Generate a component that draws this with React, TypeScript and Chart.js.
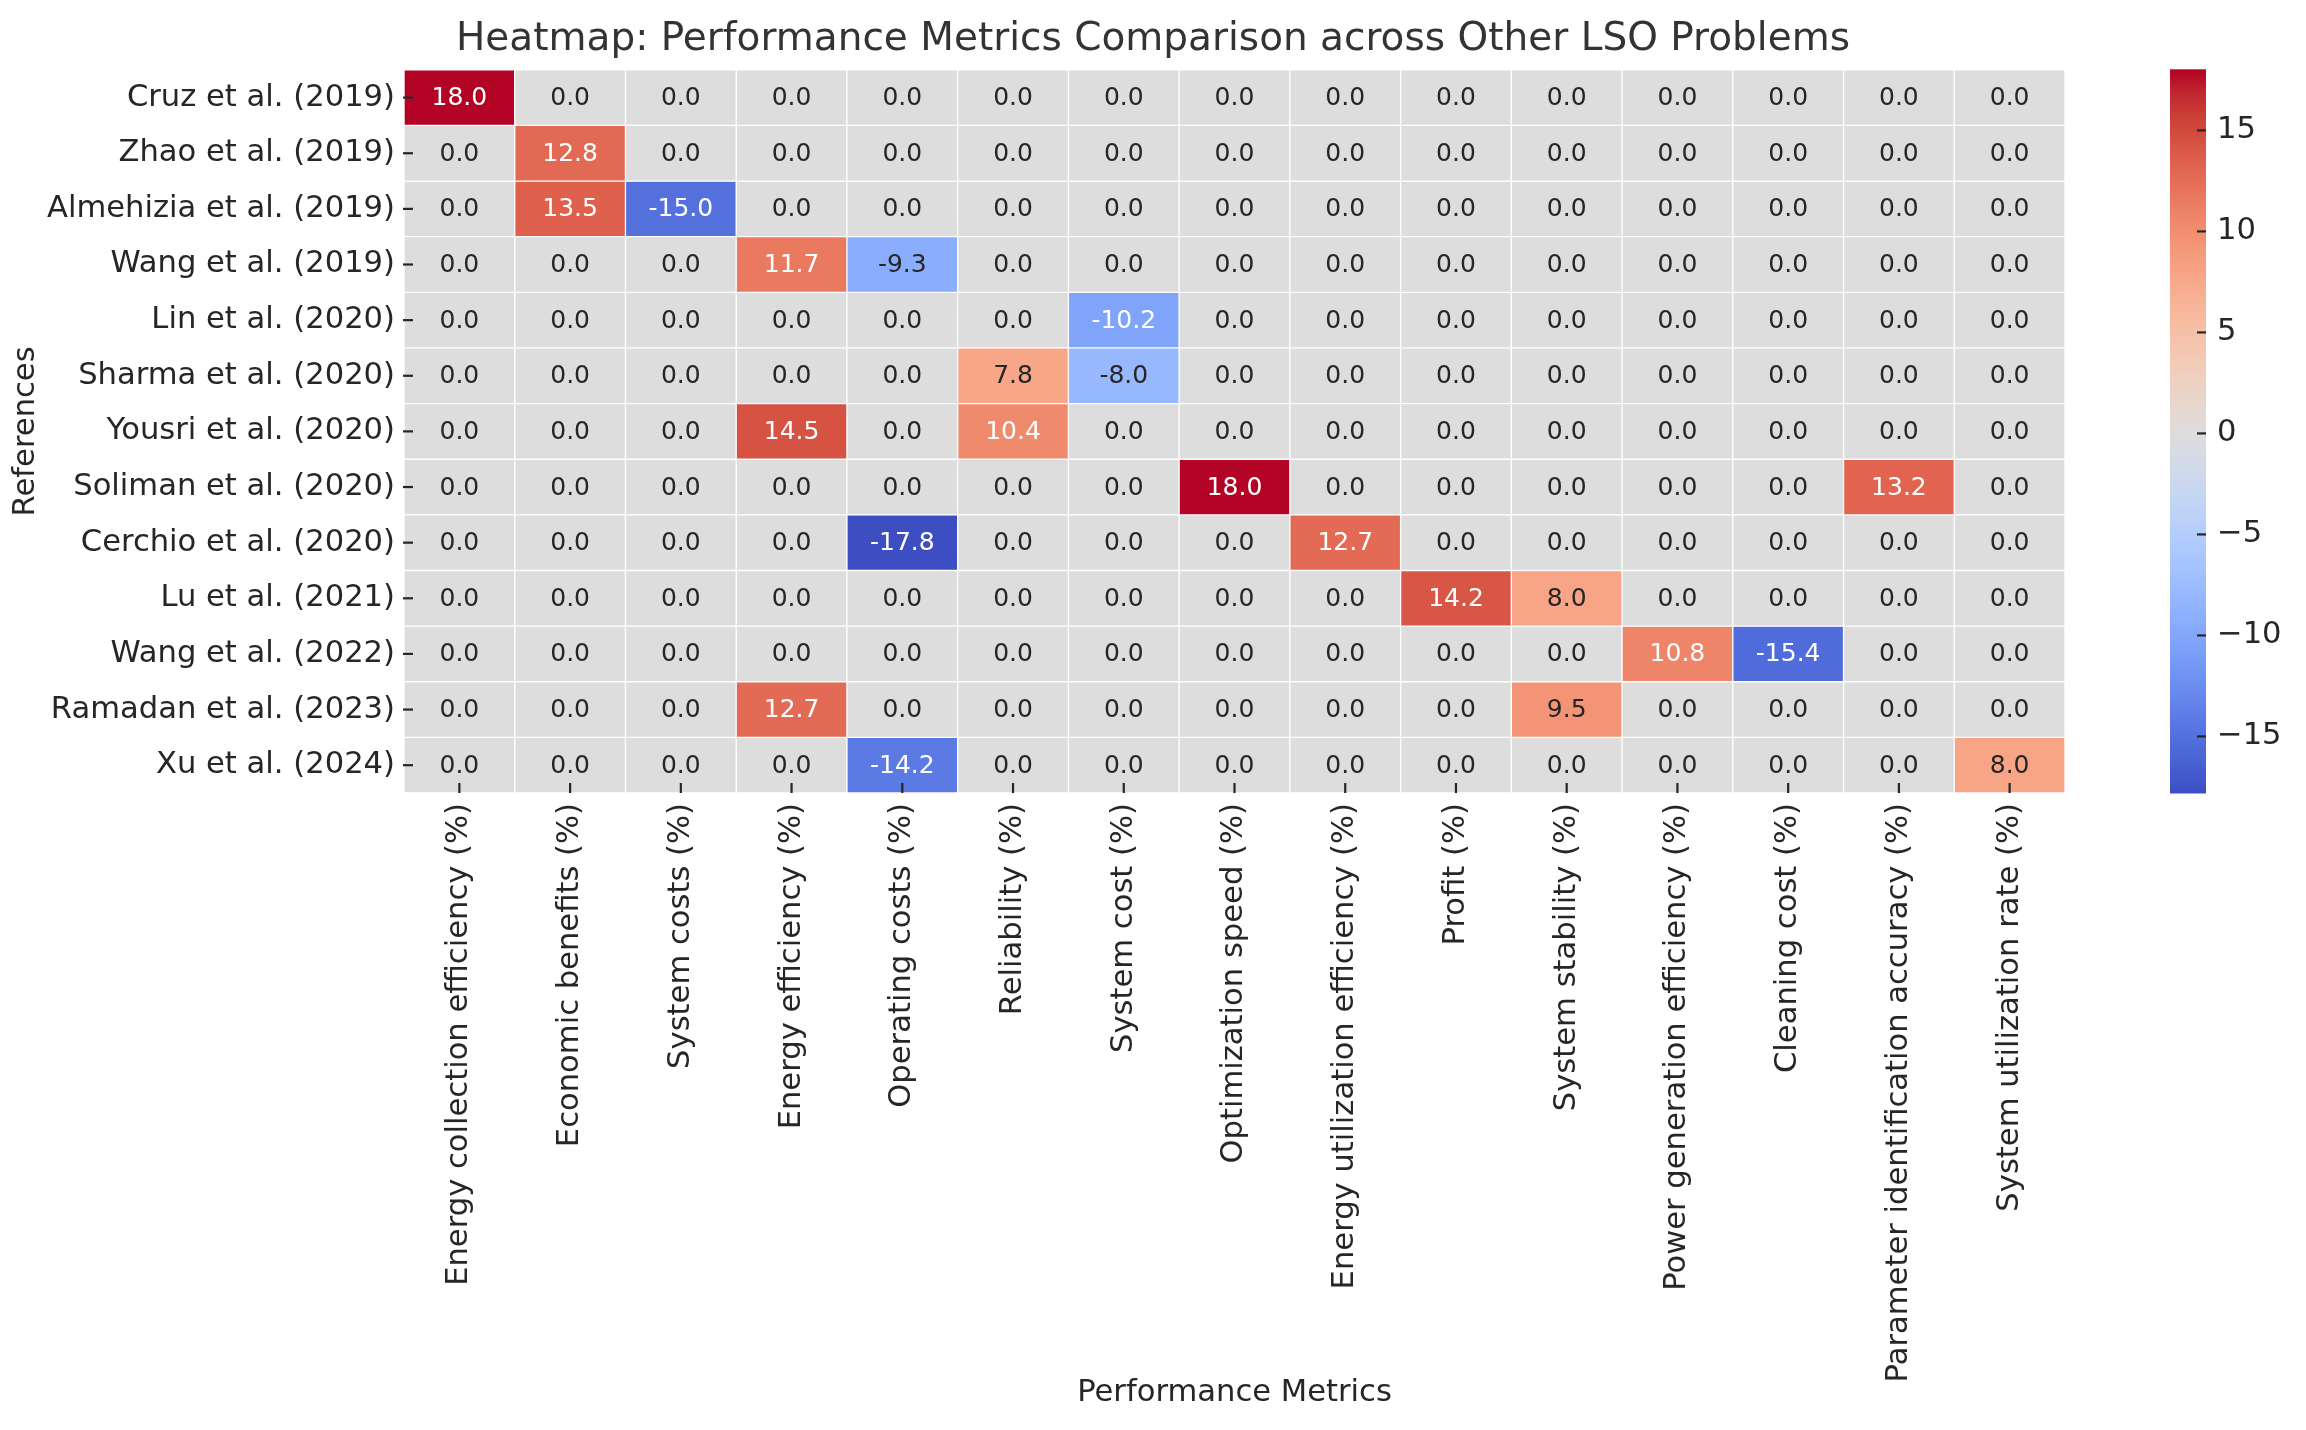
import React, { useEffect, useRef } from "react";
import { Chart, registerables } from "chart.js";

Chart.register(...registerables);

const references = [
  "Cruz et al. (2019)",
  "Zhao et al. (2019)",
  "Almehizia et al. (2019)",
  "Wang et al. (2019)",
  "Lin et al. (2020)",
  "Sharma et al. (2020)",
  "Yousri et al. (2020)",
  "Soliman et al. (2020)",
  "Cerchio et al. (2020)",
  "Lu et al. (2021)",
  "Wang et al. (2022)",
  "Ramadan et al. (2023)",
  "Xu et al. (2024)",
];

const metrics = [
  "Energy collection efficiency (%)",
  "Economic benefits (%)",
  "System costs (%)",
  "Energy efficiency (%)",
  "Operating costs (%)",
  "Reliability (%)",
  "System cost (%)",
  "Optimization speed (%)",
  "Energy utilization efficiency (%)",
  "Profit (%)",
  "System stability (%)",
  "Power generation efficiency (%)",
  "Cleaning cost (%)",
  "Parameter identification accuracy (%)",
  "System utilization rate (%)",
];

// one row of values per reference, in metric order
const cruz2019 = [18.0, 0, 0, 0, 0, 0, 0, 0, 0, 0, 0, 0, 0, 0, 0];
const zhao2019 = [0, 12.8, 0, 0, 0, 0, 0, 0, 0, 0, 0, 0, 0, 0, 0];
const almehizia2019 = [0, 13.5, -15.0, 0, 0, 0, 0, 0, 0, 0, 0, 0, 0, 0, 0];
const wang2019 = [0, 0, 0, 11.7, -9.3, 0, 0, 0, 0, 0, 0, 0, 0, 0, 0];
const lin2020 = [0, 0, 0, 0, 0, 0, -10.2, 0, 0, 0, 0, 0, 0, 0, 0];
const sharma2020 = [0, 0, 0, 0, 0, 7.8, -8.0, 0, 0, 0, 0, 0, 0, 0, 0];
const yousri2020 = [0, 0, 0, 14.5, 0, 10.4, 0, 0, 0, 0, 0, 0, 0, 0, 0];
const soliman2020 = [0, 0, 0, 0, 0, 0, 0, 18.0, 0, 0, 0, 0, 0, 13.2, 0];
const cerchio2020 = [0, 0, 0, 0, -17.8, 0, 0, 0, 12.7, 0, 0, 0, 0, 0, 0];
const lu2021 = [0, 0, 0, 0, 0, 0, 0, 0, 0, 14.2, 8.0, 0, 0, 0, 0];
const wang2022 = [0, 0, 0, 0, 0, 0, 0, 0, 0, 0, 0, 10.8, -15.4, 0, 0];
const ramadan2023 = [0, 0, 0, 12.7, 0, 0, 0, 0, 0, 0, 9.5, 0, 0, 0, 0];
const xu2024 = [0, 0, 0, 0, -14.2, 0, 0, 0, 0, 0, 0, 0, 0, 0, 8.0];

const rowValues = [
  cruz2019, zhao2019, almehizia2019, wang2019, lin2020, sharma2020, yousri2020,
  soliman2020, cerchio2020, lu2021, wang2022, ramadan2023, xu2024,
];

const colorbarTicks = [-15, -10, -5, 0, 5, 10, 15];

const TITLE = "Heatmap: Performance Metrics Comparison across Other LSO Problems";
const X_TITLE = "Performance Metrics";
const Y_TITLE = "References";

// coolwarm colormap reference points (33 samples)
const COOLWARM: number[][] = [
  [59, 76, 192], [68, 90, 204], [77, 104, 215], [87, 117, 225], [98, 130, 234],
  [108, 142, 241], [119, 154, 247], [130, 165, 251], [141, 176, 254], [152, 185, 255],
  [163, 194, 255], [174, 201, 253], [184, 208, 249], [194, 213, 244], [204, 217, 238],
  [213, 219, 230], [221, 221, 221], [229, 216, 209], [236, 211, 197], [241, 204, 185],
  [245, 196, 173], [247, 187, 160], [247, 177, 148], [247, 166, 135], [244, 154, 123],
  [241, 141, 111], [236, 127, 99], [229, 112, 88], [222, 96, 77], [213, 80, 66],
  [203, 62, 56], [192, 40, 47], [180, 4, 38],
];

const allValues = rowValues.flat();
const vmin = Math.min(...allValues);
const vmax = Math.max(...allValues);

function coolwarm(t: number): number[] {
  const tt = Math.max(0, Math.min(1, t));
  const pos = tt * (COOLWARM.length - 1);
  const i = Math.floor(pos);
  if (i >= COOLWARM.length - 1) return COOLWARM[COOLWARM.length - 1];
  const f = pos - i;
  const a = COOLWARM[i];
  const b = COOLWARM[i + 1];
  return [a[0] + (b[0] - a[0]) * f, a[1] + (b[1] - a[1]) * f, a[2] + (b[2] - a[2]) * f];
}

function colorFor(v: number): number[] {
  const vr = Math.max(vmax, -vmin);
  return coolwarm((v + vr) / (2 * vr));
}

function rgbStr(c: number[]): string {
  return `rgb(${Math.round(c[0])},${Math.round(c[1])},${Math.round(c[2])})`;
}

function luminance(c: number[]): number {
  const f = (x: number) => {
    const s = x / 255;
    return s <= 0.03928 ? s / 12.92 : Math.pow((s + 0.055) / 1.055, 2.4);
  };
  return 0.2126 * f(c[0]) + 0.7152 * f(c[1]) + 0.0722 * f(c[2]);
}

const FONT = "'DejaVu Sans', 'Liberation Sans', sans-serif";
const TEXT = "#262626";

const heatPlugin = {
  id: "heatExtras",
  afterDatasetsDraw(chart: any) {
    const { ctx, chartArea, scales } = chart;
    const xs = scales.x;
    const ys = scales.y;
    const cb = scales.cb;
    ctx.save();
    // annotations
    ctx.font = `25px ${FONT}`;
    ctx.textAlign = "center";
    ctx.textBaseline = "middle";
    rowValues.forEach((row, i) => {
      row.forEach((v, j) => {
        const x = xs.getPixelForValue(j);
        const y = ys.getPixelForValue(i + 0.5);
        const c = colorFor(v);
        ctx.fillStyle = luminance(c) > 0.408 ? TEXT : "#ffffff";
        ctx.fillText(v.toFixed(1), x, y + 1);
      });
    });
    // tick marks (inward)
    ctx.strokeStyle = TEXT;
    ctx.lineWidth = 2.2;
    const tl = 10;
    metrics.forEach((_, j) => {
      const x = xs.getPixelForValue(j);
      ctx.beginPath();
      ctx.moveTo(x, chartArea.bottom);
      ctx.lineTo(x, chartArea.bottom - tl);
      ctx.stroke();
    });
    references.forEach((_, i) => {
      const y = ys.getPixelForValue(i + 0.5);
      ctx.beginPath();
      ctx.moveTo(chartArea.left - 1, y);
      ctx.lineTo(chartArea.left + tl - 1, y);
      ctx.stroke();
    });
    // colorbar
    const cx0 = chartArea.right + 105;
    const cw = 36;
    const steps = 400;
    for (let k = 0; k < steps; k++) {
      const v0 = vmin + ((vmax - vmin) * k) / steps;
      const v1 = vmin + ((vmax - vmin) * (k + 1)) / steps;
      const y0 = cb.getPixelForValue(v0);
      const y1 = cb.getPixelForValue(v1);
      ctx.fillStyle = rgbStr(colorFor((v0 + v1) / 2));
      ctx.fillRect(cx0, Math.min(y0, y1) - 0.5, cw, Math.abs(y1 - y0) + 1);
    }
    colorbarTicks.forEach((t) => {
      const y = cb.getPixelForValue(t);
      ctx.beginPath();
      ctx.moveTo(cx0 + cw - 9, y);
      ctx.lineTo(cx0 + cw, y);
      ctx.stroke();
    });
    ctx.restore();
  },
};

export default function App() {
  const ref = useRef<HTMLCanvasElement | null>(null);
  useEffect(() => {
    if (!ref.current) return;
    const datasets = references.map((r, i) => ({
      label: r,
      data: metrics.map(() => [i, i + 1]),
      backgroundColor: rowValues[i].map((v) => rgbStr(colorFor(v))),
      borderColor: "#ffffff",
      borderWidth: 1,
      borderSkipped: false,
      grouped: false,
      barPercentage: 1,
      categoryPercentage: 1,
      xAxisID: "x",
      yAxisID: "y",
    }));
    const chart = new Chart(ref.current, {
      type: "bar",
      data: { labels: metrics, datasets: datasets as any },
      options: {
        animation: false,
        responsive: false,
        devicePixelRatio: 1,
        layout: { padding: 0 },
        plugins: {
          legend: { display: false },
          tooltip: { enabled: false },
          title: {
            display: true,
            text: TITLE,
            color: "#333333",
            font: { family: FONT, size: 39, weight: "normal" as any },
            padding: { top: 16, bottom: 7 },
          },
        },
        scales: {
          x: {
            type: "category",
            position: "bottom",
            grid: { display: false, drawTicks: false, tickLength: 0 },
            border: { display: false },
            ticks: {
              autoSkip: false,
              minRotation: 90,
              maxRotation: 90,
              padding: 10,
              color: TEXT,
              font: { family: FONT, size: 30.6 },
            },
            title: {
              display: true,
              text: X_TITLE,
              color: TEXT,
              font: { family: FONT, size: 30.6 },
              padding: { top: 0, bottom: 19 },
            },
            afterFit: (s: any) => {
              s.height = 637;
              s.paddingLeft = 0;
              s.paddingRight = 0;
            },
          },
          y: {
            type: "linear",
            position: "left",
            min: 0,
            max: references.length,
            reverse: true,
            grid: { display: false, drawTicks: false, tickLength: 0 },
            border: { display: false },
            afterBuildTicks: (s: any) => {
              s.ticks = references.map((_, i) => ({ value: i + 0.5 }));
            },
            ticks: {
              autoSkip: false,
              padding: 9,
              color: TEXT,
              font: { family: FONT, size: 30.6 },
              callback: (_v: any, idx: number) => references[idx],
            },
            title: {
              display: true,
              text: Y_TITLE,
              color: TEXT,
              font: { family: FONT, size: 30.6 },
              padding: { top: 8, bottom: 0 },
            },
            afterFit: (s: any) => {
              s.width = 404;
              s.paddingTop = 0;
              s.paddingBottom = 0;
            },
          },
          cb: {
            type: "linear",
            position: "right",
            min: vmin,
            max: vmax,
            grid: { display: false, drawTicks: false, tickLength: 0 },
            border: { display: false },
            afterBuildTicks: (s: any) => {
              s.ticks = colorbarTicks.map((v) => ({ value: v }));
            },
            ticks: {
              autoSkip: false,
              padding: 152,
              color: TEXT,
              font: { family: FONT, size: 30.6 },
              callback: (v: any) => (Number(v) < 0 ? "\u2212" + Math.abs(Number(v)) : String(v)),
            },
            afterFit: (s: any) => {
              s.width = 241;
              s.paddingTop = 0;
              s.paddingBottom = 0;
            },
          },
        },
      } as any,
      plugins: [heatPlugin],
    });
    return () => chart.destroy();
  }, []);
  return (
    <div style={{ position: "absolute", left: 0, top: 0, width: 2306, height: 1430, background: "#fff" }}>
      <canvas ref={ref} width={2306} height={1430} style={{ width: 2306, height: 1430, display: "block" }} />
    </div>
  );
}
